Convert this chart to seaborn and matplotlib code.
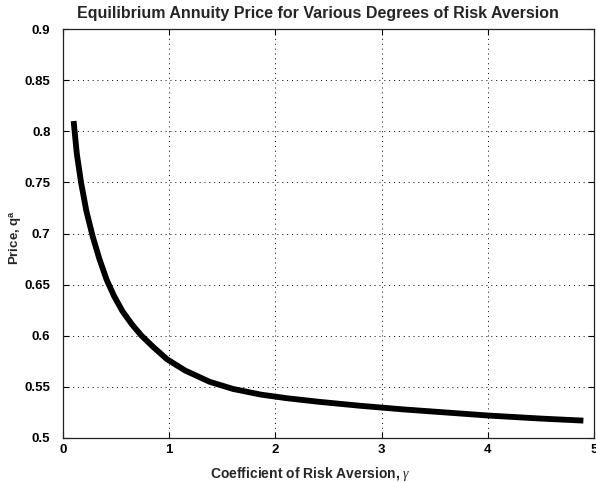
import matplotlib
matplotlib.use("Agg")
import matplotlib.pyplot as plt
import seaborn as sns
import pandas as pd

# Risk aversion coefficient and equilibrium annuity price
gamma = [0.10, 0.13, 0.17, 0.22, 0.28, 0.34, 0.41, 0.48, 0.56, 0.65,
         0.74, 0.85, 0.98, 1.15, 1.38, 1.60, 1.86, 2.10, 2.40, 2.80,
         3.20, 3.60, 4.00, 4.50, 4.90]
price = [0.810, 0.778, 0.750, 0.722, 0.697, 0.676, 0.655, 0.639, 0.624, 0.611,
         0.600, 0.589, 0.577, 0.566, 0.555, 0.548, 0.5425, 0.539, 0.5355, 0.5315,
         0.528, 0.525, 0.522, 0.519, 0.517]

x_ticks = [0, 1, 2, 3, 4, 5]
y_ticks = [0.5, 0.55, 0.6, 0.65, 0.7, 0.75, 0.8, 0.85, 0.9]
y_tick_labels = ["0.5", "0.55", "0.6", "0.65", "0.7", "0.75", "0.8", "0.85", "0.9"]

sns.set_theme(style="white")
plt.rcParams["font.family"] = ["Liberation Sans", "DejaVu Sans"]
plt.rcParams["mathtext.fontset"] = "custom"
plt.rcParams["mathtext.it"] = "Liberation Serif:italic"
plt.rcParams["mathtext.rm"] = "Liberation Sans:bold"

fig = plt.figure(figsize=(5.96, 4.82), dpi=100)
ax = fig.add_axes([63 / 596, 1 - 438 / 482, 531 / 596, 409 / 482])

df = pd.DataFrame({"gamma": gamma, "price": price})
sns.lineplot(data=df, x="gamma", y="price", color="black", linewidth=4.2,
             ax=ax, sort=True, estimator=None)
for ln in ax.get_lines():
    ln.set_solid_capstyle("butt")
    ln.set_solid_joinstyle("round")

ax.set_xlim(0, 5)
ax.set_ylim(0.5, 0.9)
ax.set_xticks(x_ticks)
ax.set_xticklabels([str(t) for t in x_ticks])
ax.set_yticks(y_ticks)
ax.set_yticklabels(y_tick_labels)

ax.grid(True, color="black", linestyle=(0, (1, 4)), linewidth=0.7)
ax.tick_params(direction="in", length=4, width=0.8, top=True, right=True,
               bottom=True, left=True, labelsize=9.5, colors="black")
ax.tick_params(axis="y", pad=9)
ax.tick_params(axis="x", pad=4)
for lab in ax.get_xticklabels() + ax.get_yticklabels():
    lab.set_fontweight("bold")
for sp in ax.spines.values():
    sp.set_visible(True)
    sp.set_color("#222222")
    sp.set_linewidth(0.9)

ax.set_title("Equilibrium Annuity Price for Various Degrees of Risk Aversion",
             fontsize=11.5, fontweight="bold", x=0.48, pad=8)
ax.set_xlabel(r"Coefficient of Risk Aversion, $\gamma$", fontsize=10,
              fontweight="bold")
ax.xaxis.set_label_coords(0.465, -0.065)
ax.set_ylabel(r"Price, q$^{\mathrm{a}}$", fontsize=9.5, fontweight="bold")
ax.yaxis.set_label_coords(-0.073, 0.49)

fig.savefig("out.png", dpi=100)
